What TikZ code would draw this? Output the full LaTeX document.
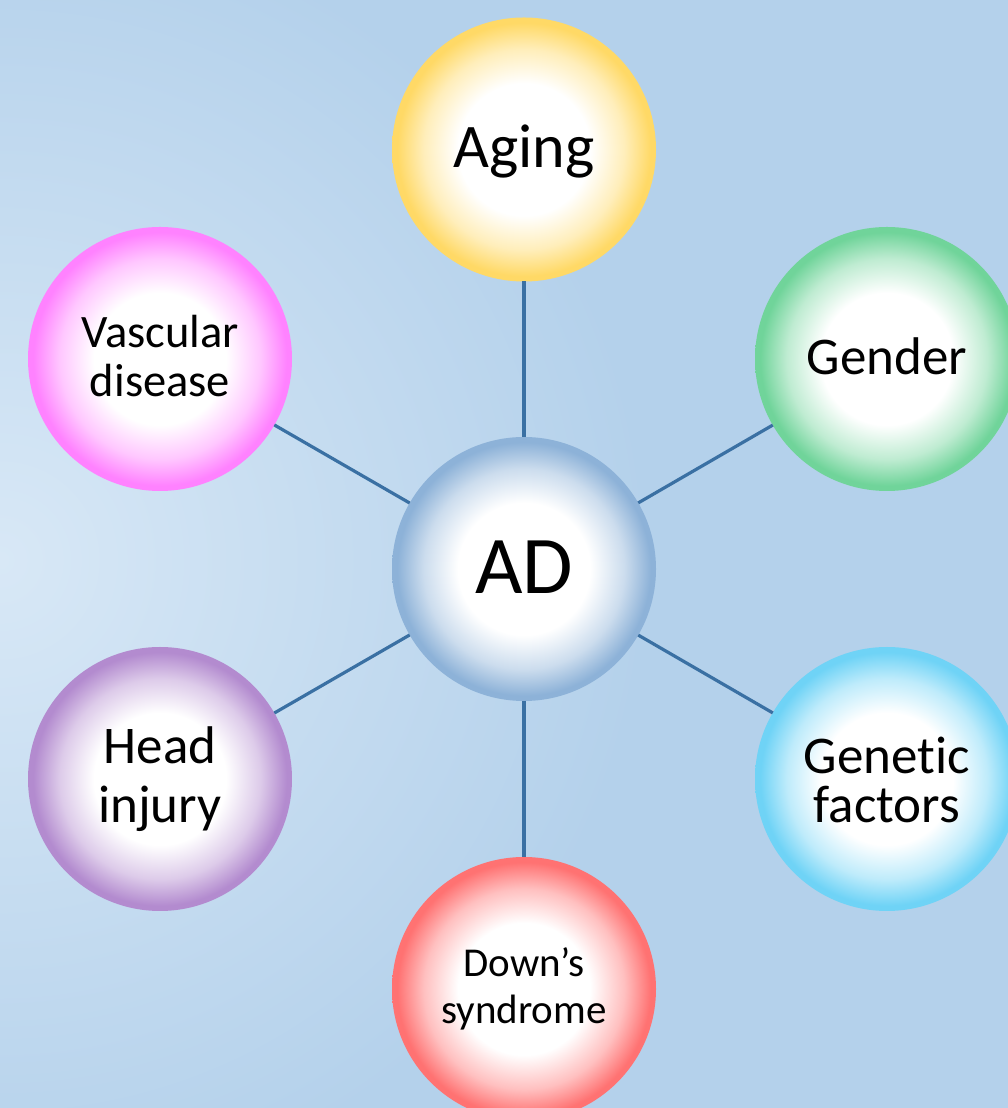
\documentclass[tikz,border=0pt]{standalone}
\usepackage{fontspec}
\setmainfont[Ligatures=NoCommon]{Carlito}
\definecolor{bgdark}{HTML}{B4D1EB}
\definecolor{bglight}{HTML}{D8E8F6}
\definecolor{linkc}{HTML}{3A70A3}
\definecolor{cAging}{HTML}{FFD966}
\definecolor{cVasc}{HTML}{FF82FF}
\definecolor{cGender}{HTML}{70D49A}
\definecolor{cAD}{HTML}{8DB2D8}
\definecolor{cHead}{HTML}{B38BCF}
\definecolor{cGenetic}{HTML}{6FD3F6}
\definecolor{cDown}{HTML}{FF7272}
\colorlet{ccol}{white}
\colorlet{ccolm}{white}
\pgfdeclareradialshading[ccol,ccolm]{softball}{\pgfpoint{0bp}{0bp}}{color(0bp)=(white); color(12.5bp)=(white); color(19bp)=(ccolm); color(24bp)=(ccol); color(50bp)=(ccol)}
\tikzset{
  ball/.style={circle, minimum size=264pt, inner sep=0pt, outer sep=0pt, align=center,
    /utils/exec={\colorlet{ccol}{#1}\colorlet{ccolm}{#1!45!white}}, shade, shading=softball},
  link/.style={draw=linkc, line width=3.2pt},
}
\begin{document}
\begin{tikzpicture}[x=1pt,y=1pt]
\clip (0,0) rectangle (1008,1108);
\useasboundingbox (0,0) rectangle (1008,1108);
\fill[bgdark] (0,0) rectangle (1008,1108);
\shade[inner color=bglight, outer color=bgdark] (0,548) circle (650pt);

\node[ball=cAging, font=\fontsize{62}{62}\selectfont, text height=37pt, text depth=0pt] (aging) at (524,958.5) {Aging};
\node[ball=cVasc, font=\fontsize{46.5}{49}\selectfont, text height=76pt, text depth=0pt] (vasc) at (160,749) {Vascular\\disease};
\node[ball=cGender, font=\fontsize{53}{53}\selectfont, text height=32pt, text depth=0pt] (gender) at (887,749) {Gender};
\node[ball=cAD, font=\fontsize{82}{82}\selectfont, text height=50pt, text depth=0pt] (ad) at (524,539) {AD};
\node[ball=cHead, font=\fontsize{53}{59}\selectfont, text height=88pt, text depth=0pt] (head) at (160,329) {Head\\injury};
\node[ball=cGenetic, font=\fontsize{53}{49}\selectfont, text height=88pt, text depth=0pt] (genetic) at (887,329) {Genetic\\factors};
\node[ball=cDown, font=\fontsize{41}{47}\selectfont, text height=70pt, text depth=0pt] (down) at (524,119) {Down’s\\syndrome};

\draw[link] (ad) -- (aging);
\draw[link] (ad) -- (vasc);
\draw[link] (ad) -- (gender);
\draw[link] (ad) -- (head);
\draw[link] (ad) -- (genetic);
\draw[link] (ad) -- (down);
\end{tikzpicture}
\end{document}
